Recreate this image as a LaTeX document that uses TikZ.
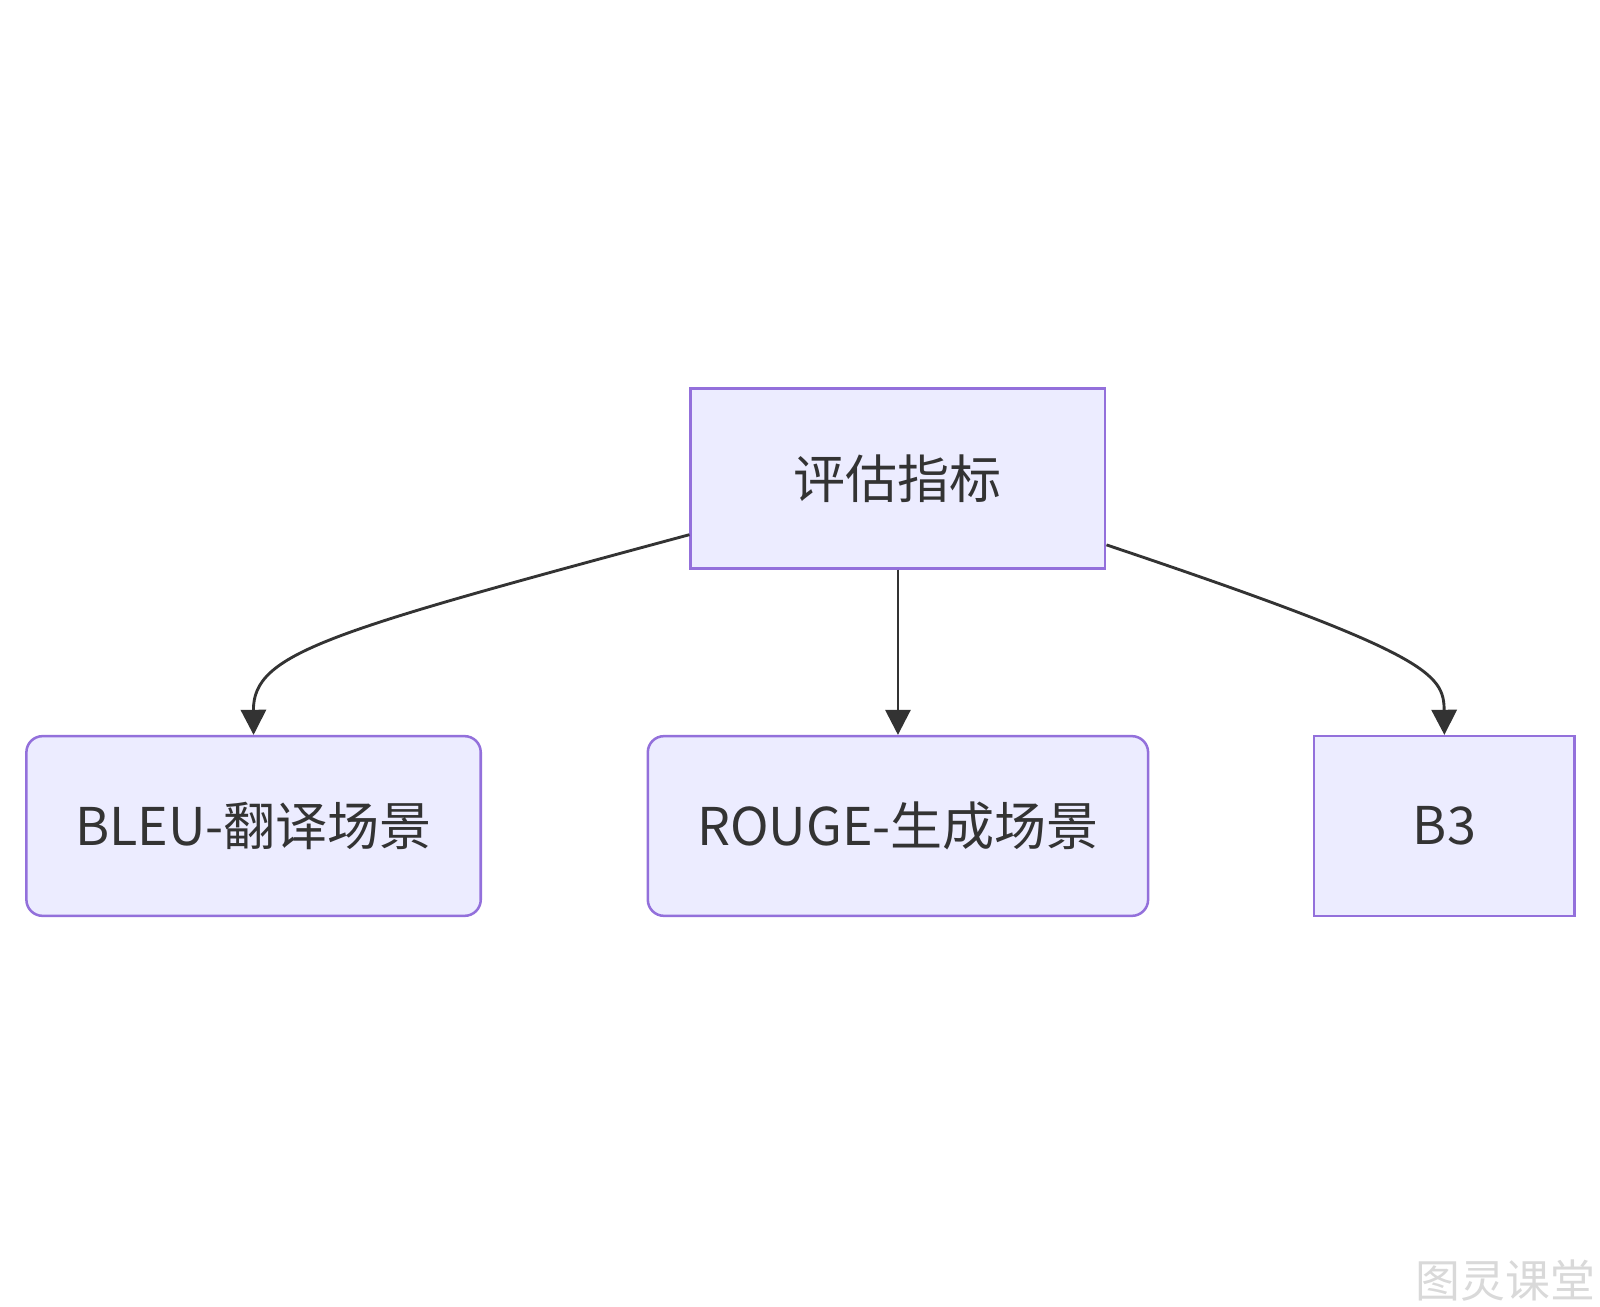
\documentclass[tikz,border=0pt]{standalone}
\usepackage{fontspec}
\setmainfont{Noto Sans CJK SC}
\usetikzlibrary{arrows.meta}
\definecolor{boxfill}{HTML}{ECECFF}
\definecolor{boxline}{HTML}{9370DB}
\definecolor{edgecol}{HTML}{333333}
\tikzset{
  box/.style={draw=boxline, fill=boxfill, line width=0.7pt, minimum height=1.76cm, text=edgecol, font=\fontsize{14.5}{17}\selectfont},
  rbox/.style={box, rounded corners=4.5pt},
  link/.style={draw=edgecol, line width=0.8pt, -{Triangle[length=7pt,width=7pt]}}
}
\begin{document}
\begin{tikzpicture}[x=0.01cm,y=-0.01cm]
		    	\useasboundingbox (0,0) rectangle (1568,1280);
		    	\node[box, minimum width=4.06cm] (M) at (880,469) {评估指标};
		    	\node[rbox, minimum width=4.45cm] (B1) at (248.5,809.5) {BLEU-翻译场景};
		    	\node[rbox, minimum width=4.90cm] (B2) at (880,809.5) {ROUGE-生成场景};
		    	\node[box, minimum width=2.55cm] (B3) at (1415.5,809.5) {B3};
		    	\node[text=black!15, font=\fontsize{12.5}{14}\selectfont, inner sep=0pt, anchor=south east] (W) at (1564,1276) {图灵课堂};
		    	
		    	\draw[link] (M.west |- 0,524) .. controls (320,620) and (248,640) .. (B1.north);
		    	\draw[link] (M) -- (B2);
		    	\draw[link] (M.east |- 0,534) .. controls (1400,640) and (1415,660) .. (B3.north);
		    \end{tikzpicture}
\end{document}
